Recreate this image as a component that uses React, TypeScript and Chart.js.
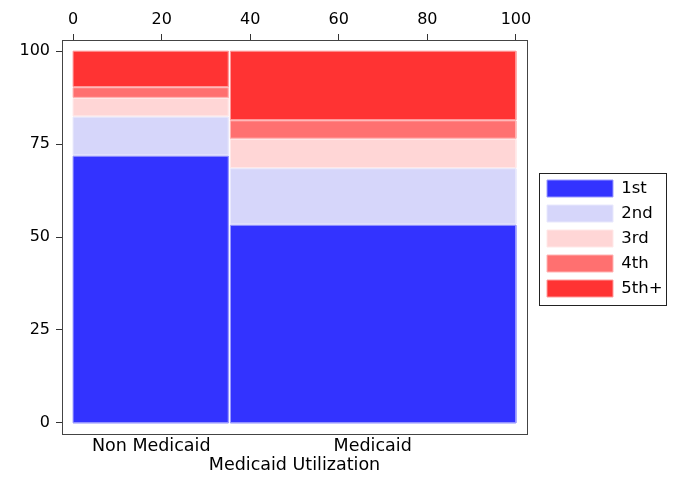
import React, { useEffect, useRef } from 'react';
import { Chart, registerables } from 'chart.js';

Chart.register(...registerables);

// Mosaic of visit order by Medicaid utilization (shares in percent)
const utilization = ['Non Medicaid', 'Medicaid'];
const utilizationShare = [35.3, 64.7];
const visitOrder = ['1st', '2nd', '3rd', '4th', '5th+'];
const nonMedicaidShare = [71.9, 10.5, 5.0, 2.9, 9.7];
const medicaidShare = [53.3, 15.2, 7.9, 5.0, 18.6];
const xTicks = [0, 20, 40, 60, 80, 100];
const yTicks = [0, 25, 50, 75, 100];
const axisTitle = 'Medicaid Utilization';

const fills = ['#3333ff', '#d6d6fa', '#ffd6d6', '#ff7070', '#ff3333'];
const edges = ['#9a9aff', '#e8e8fc', '#ffe8e8', '#ffb4b4', '#ff9c9c'];

const GAP_X = 0.45;
const GAP_Y = 0.3;
const FAMILY = '"DejaVu Sans", sans-serif';
const TICK_FONT = { family: FAMILY, size: 16 };
const LEGEND_FONT = { family: FAMILY, size: 16.5 };
const LABEL_FONT = { family: FAMILY, size: 17.5 };

// centre of each column, used for the category labels under the plot
const columnCentres = utilizationShare.map(
  (w, i) => utilizationShare.slice(0, i).reduce((a, b) => a + b, 0) + w / 2
);

function buildTiles() {
  const shares = [nonMedicaidShare, medicaidShare];
  const sets: any[] = [];
  let left = 0;
  utilization.forEach((_, c) => {
    const right = left + utilizationShare[c];
    const x0 = left + (c > 0 ? GAP_X / 2 : 0);
    const x1 = right - (c < utilization.length - 1 ? GAP_X / 2 : 0);
    let bottom = 0;
    shares[c].forEach((v, k) => {
      const top = bottom + v;
      const y0 = bottom + (k > 0 ? GAP_Y / 2 : 0);
      const y1 = top - (k < visitOrder.length - 1 ? GAP_Y / 2 : 0);
      // closed outline, ends on the far corner so the fill keeps the full width
      sets.push({
        label: visitOrder[k],
        data: [
          { x: x0, y: y0 },
          { x: x0, y: y1 },
          { x: x1, y: y1 },
          { x: x1, y: y0 },
          { x: x0, y: y0 },
          { x: x1, y: y0 },
        ],
        showLine: true,
        fill: 'shape',
        backgroundColor: fills[k],
        borderColor: edges[k],
        borderWidth: 1,
        borderJoinStyle: 'miter',
        pointRadius: 0,
        pointHoverRadius: 0,
        tension: 0,
      });
      bottom = top;
    });
    left = right;
  });
  return sets;
}

const framePlugin = {
  id: 'frames',
  afterDraw(chart: any) {
    const { ctx, chartArea } = chart;
    ctx.save();
    ctx.strokeStyle = '#444';
    ctx.lineWidth = 1;
    ctx.strokeRect(
      Math.round(chartArea.left) + 0.5,
      Math.round(chartArea.top) + 0.5,
      Math.round(chartArea.right - chartArea.left),
      Math.round(chartArea.bottom - chartArea.top)
    );
    const boxes = chart.legend?.legendHitBoxes || [];
    if (boxes.length) {
      const l = Math.min(...boxes.map((b: any) => b.left)) - 8.5;
      const t = Math.min(...boxes.map((b: any) => b.top)) - 7.5;
      const r = Math.max(...boxes.map((b: any) => b.left + b.width)) + 3;
      const b = Math.max(...boxes.map((b: any) => b.top + b.height)) + 7;
      ctx.strokeStyle = '#222';
      ctx.strokeRect(Math.round(l) + 0.5, Math.round(t) + 0.5, Math.round(r - l), Math.round(b - t));
    }
    ctx.restore();
  },
};

const MosaicChart: React.FC = () => {
  const canvasRef = useRef<HTMLCanvasElement>(null);
  const chartRef = useRef<Chart | null>(null);

  useEffect(() => {
    if (!canvasRef.current) return;
    if (chartRef.current) chartRef.current.destroy();

    const tickGrid = {
      drawOnChartArea: false,
      drawTicks: true,
      tickLength: 6,
      tickColor: '#333',
      color: '#333',
    };

    chartRef.current = new Chart(canvasRef.current, {
      type: 'scatter',
      data: { datasets: buildTiles() },
      plugins: [framePlugin],
      options: {
        animation: false,
        responsive: true,
        maintainAspectRatio: false,
        events: [],
        layout: { padding: { left: 0, right: 3.5, top: 0, bottom: 0 } },
        plugins: {
          tooltip: { enabled: false },
          legend: {
            position: 'right',
            maxWidth: 220,
            labels: {
              boxWidth: 66,
              boxHeight: 17,
              padding: 8,
              color: '#000',
              font: LEGEND_FONT,
              filter: (item: any) => item.datasetIndex < visitOrder.length,
            },
          },
        },
        scales: {
          x: {
            type: 'linear',
            position: 'top',
            min: -2.5,
            max: 102.5,
            afterBuildTicks: (s: any) => {
              s.ticks = xTicks.map((v) => ({ value: v }));
            },
            afterFit: (s: any) => {
              s.height = 40;
            },
            ticks: { color: '#000', font: TICK_FONT, padding: 5, autoSkip: false, maxRotation: 0 },
            grid: tickGrid,
            border: { display: false },
          },
          xb: {
            type: 'linear',
            axis: 'x',
            position: 'bottom',
            min: -2.5,
            max: 102.5,
            afterBuildTicks: (s: any) => {
              s.ticks = columnCentres.map((v) => ({ value: v }));
            },
            afterFit: (s: any) => {
              s.height = 43;
            },
            ticks: {
              color: '#000',
              font: LABEL_FONT,
              padding: 2,
              autoSkip: false,
              maxRotation: 0,
              callback: (_v: any, i: number) => utilization[i],
            },
            title: {
              display: true,
              text: axisTitle,
              color: '#000',
              font: LABEL_FONT,
              padding: { top: 0, bottom: 1 },
            },
            grid: { display: false, drawTicks: false },
            border: { display: false },
          },
          y: {
            type: 'linear',
            position: 'left',
            min: -3,
            max: 103,
            afterBuildTicks: (s: any) => {
              s.ticks = yTicks.map((v) => ({ value: v }));
            },
            afterFit: (s: any) => {
              s.width = 62;
            },
            ticks: { color: '#000', font: TICK_FONT, padding: 6, autoSkip: false },
            grid: tickGrid,
            border: { display: false },
          },
          y2: {
            type: 'linear',
            axis: 'y',
            position: 'right',
            min: 0,
            max: 1,
            afterFit: (s: any) => {
              s.width = 12;
            },
            ticks: { display: false },
            grid: { display: false },
            border: { display: false },
          },
        },
      } as any,
    });

    return () => {
      if (chartRef.current) {
        chartRef.current.destroy();
        chartRef.current = null;
      }
    };
  }, []);

  return (
    <div style={{ position: 'relative', width: 676, height: 477 }}>
      <canvas ref={canvasRef}></canvas>
    </div>
  );
};

export default function App() {
  useEffect(() => {
    document.body.style.margin = '0';
  }, []);
  return <MosaicChart />;
}
